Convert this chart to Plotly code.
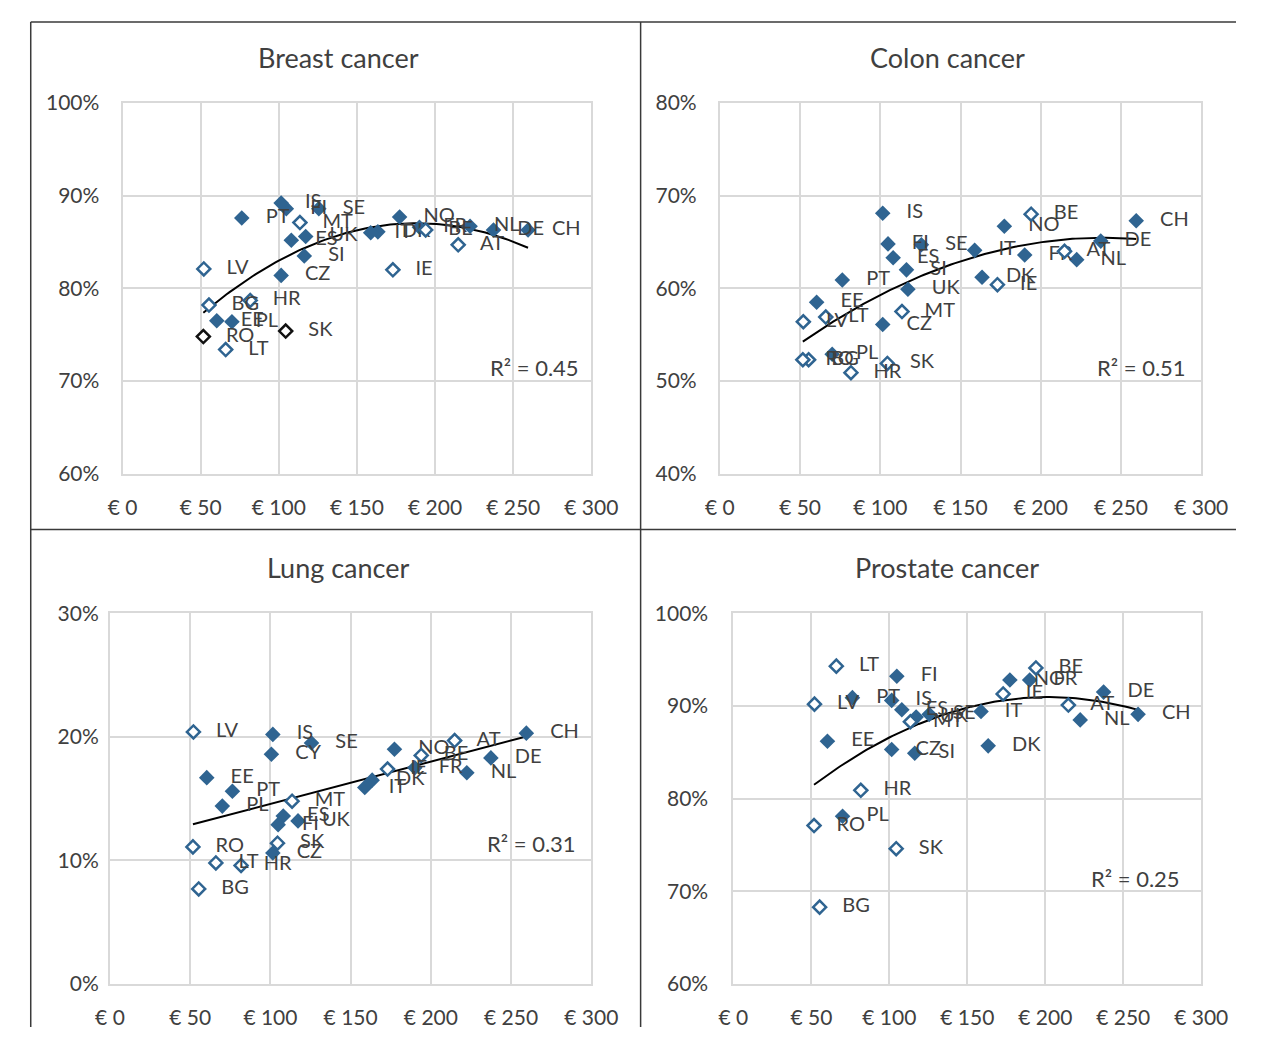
import numpy as np
import plotly.graph_objects as go

# ---------------- data ----------------
countries = ["AT", "BE", "BG", "CH", "CY", "CZ", "DE", "DK", "EE", "ES", "FI", "FR", "HR", "IE",
             "IS", "IT", "LT", "LV", "MT", "NL", "NO", "PL", "PT", "RO", "SE", "SI", "SK", "UK"]
spend = [214.8, 194.0, 55.3, 259.5, 100.6, 101.5, 237.4, 163.4, 60.3, 108.0, 104.8, 190.0, 81.7, 173.0,
         101.5, 158.8, 66.0, 52.0, 113.5, 222.4, 177.3, 70.0, 76.3, 51.7, 125.6, 116.3, 104.4, 117.2]
breast = [84.7, 86.3, 78.2, 86.3, None, 81.4, 86.3, 86.1, 76.5, 85.2, 88.6, 86.6, 78.7, 82.0,
          89.2, 86.0, 73.4, 82.1, 87.1, 86.7, 87.7, 76.4, 87.6, 74.8, 88.6, 83.5, 75.4, 85.6]
colon = [64.0, 68.0, 52.3, 67.3, None, 56.1, 65.1, 61.2, 58.5, 63.3, 64.8, 63.6, 50.9, 60.4,
         68.1, 64.1, 56.9, 56.4, 57.5, 63.1, 66.7, 52.9, 60.9, 52.3, 64.7, 62.0, 51.9, 59.9]
lung = [19.7, 18.5, 7.7, 20.3, 18.6, 10.6, 18.3, 16.5, 16.7, 13.6, 12.9, 17.5, 9.6, 17.4,
        20.2, 15.9, 9.8, 20.4, 14.8, 17.1, 19.0, 14.4, 15.6, 11.1, 19.5, None, 11.4, 13.2]
prostate = [90.1, 94.1, 68.3, 89.1, None, 85.3, 91.5, 85.7, 86.2, 89.6, 93.2, 92.8, 80.9, 91.3,
            90.6, 89.4, 94.3, 90.2, 88.3, 88.5, 92.8, 78.1, 90.9, 77.1, 89.1, 84.9, 74.6, 88.8]
open_group = ["LV", "LT", "RO", "BG", "HR", "SK", "MT", "IE", "BE", "AT"]
breast_black = ["RO", "SK"]

titles = ["Breast cancer", "Colon cancer", "Lung cancer", "Prostate cancer"]
r2_labels = ["R² = 0.45", "R² = 0.51", "R² = 0.31", "R² = 0.25"]
trend_order = [2, 2, 1, 2]
y_ranges = [[60, 100], [40, 80], [0, 30], [60, 100]]
y_ticks = [[60, 70, 80, 90, 100], [40, 50, 60, 70, 80], [0, 10, 20, 30], [60, 70, 80, 90, 100]]
x_ticks = [0, 50, 100, 150, 200, 250, 300]
x_ticktext = ["€ 0", "€ 50", "€ 100", "€ 150", "€ 200", "€ 250", "€ 300"]

# ---------------- style ----------------
BODY = 8                 # default browser body margin
W, H = 1255, 1030
BLUE = "#2f6491"
TXT = "#404040"
GRID = "#d9d9d9"
FONT = "Lato"
PAD = "\u00a0\u00a0\u00a0"


def fx(px):
    return (px - BODY) / W


def fy(py):
    return 1 - (py - BODY) / H


# plot areas in page pixels: (left, right, top, bottom)
areas = [(111, 596, 91, 471), (729, 1227, 91, 471), (98, 596, 614, 994), (743, 1227, 614, 994)]
ystandoff = [17, 17, 5, 19]
r2_pos = [(0.977, 0.287), (0.972, 0.287), (0.972, 0.379), (0.959, 0.284)]
title_pos = [(334, 44), (964, 44), (334, 567), (964, 567)]

fig = go.Figure()
series = [breast, colon, lung, prostate]
layout_axes = {}
annotations = []

for i, vals in enumerate(series):
    n = "" if i == 0 else str(i + 1)
    xa, ya = "x" + n, "y" + n
    l, r, t, b = areas[i]
    xs_f, ys_f, tx_f = [], [], []
    xs_o, ys_o, tx_o, lc_o = [], [], [], []
    for c, xv, yv in zip(countries, spend, vals):
        if yv is None:
            continue
        if c in open_group:
            xs_o.append(xv); ys_o.append(yv); tx_o.append(PAD + c)
            lc_o.append("#111111" if (i == 0 and c in breast_black) else BLUE)
        else:
            xs_f.append(xv); ys_f.append(yv); tx_f.append(PAD + c)
    xx = np.array([x for x, y in zip(spend, vals) if y is not None])
    yy = np.array([y for y in vals if y is not None])
    coef = np.polyfit(xx, yy, trend_order[i])
    xl = np.linspace(xx.min(), xx.max(), 100)
    fig.add_trace(go.Scatter(x=xl, y=np.polyval(coef, xl), mode="lines",
                             line=dict(color="black", width=2), xaxis=xa, yaxis=ya,
                             showlegend=False, hoverinfo="skip"))
    fig.add_trace(go.Scatter(x=xs_f, y=ys_f, text=tx_f, mode="markers+text",
                             textposition="middle right",
                             textfont=dict(family=FONT, size=20, color=TXT),
                             marker=dict(symbol="diamond", size=12, color=BLUE, line=dict(width=0)),
                             xaxis=xa, yaxis=ya, showlegend=False))
    fig.add_trace(go.Scatter(x=xs_o, y=ys_o, text=tx_o, mode="markers+text",
                             textposition="middle right",
                             textfont=dict(family=FONT, size=20, color=TXT),
                             marker=dict(symbol="diamond", size=10, color="white",
                                         line=dict(width=2.5, color=lc_o)),
                             xaxis=xa, yaxis=ya, showlegend=False))
    layout_axes["xaxis" + n] = dict(
        domain=[fx(l), fx(r)], anchor=ya, range=[0, 300], tickvals=x_ticks, ticktext=x_ticktext,
        showgrid=True, gridcolor=GRID, gridwidth=2, zeroline=False,
        showline=True, mirror=True, linecolor=GRID, linewidth=2, ticks="",
        ticklabelstandoff=14, tickfont=dict(family=FONT, size=21, color=TXT), fixedrange=True)
    layout_axes["yaxis" + n] = dict(
        domain=[fy(b), fy(t)], anchor=xa, range=y_ranges[i], tickvals=y_ticks[i],
        ticktext=[f"{v}%" for v in y_ticks[i]],
        showgrid=True, gridcolor=GRID, gridwidth=2, zeroline=False,
        showline=True, mirror=True, linecolor=GRID, linewidth=2, ticks="",
        ticklabelstandoff=ystandoff[i], tickfont=dict(family=FONT, size=21, color=TXT), fixedrange=True)
    annotations.append(dict(text=r2_labels[i], x=r2_pos[i][0], y=r2_pos[i][1],
                            xref=xa + " domain", yref=ya + " domain", xanchor="right", yanchor="middle",
                            showarrow=False, font=dict(family=FONT, size=22, color=TXT)))
    annotations.append(dict(text=titles[i], x=fx(title_pos[i][0]), y=fy(title_pos[i][1]),
                            xref="paper", yref="paper", xanchor="center", yanchor="middle",
                            showarrow=False, font=dict(family=FONT, size=27, color=TXT)))

LINE = dict(color="#3a3a3a", width=1.5)
shapes = [
    dict(type="line", xref="paper", yref="paper", x0=fx(16), x1=fx(16), y0=0, y1=1, line=LINE),
    dict(type="line", xref="paper", yref="paper", x0=fx(16), x1=1, y0=1, y1=1, line=LINE),
    dict(type="line", xref="paper", yref="paper", x0=fx(647), x1=fx(647), y0=0, y1=1, line=LINE),
    dict(type="line", xref="paper", yref="paper", x0=fx(16), x1=1, y0=fy(528), y1=fy(528), line=LINE),
]

fig.update_layout(width=W, height=H, margin=dict(l=0, r=0, t=0, b=0),
                  paper_bgcolor="white", plot_bgcolor="white", showlegend=False,
                  annotations=annotations, shapes=shapes, **layout_axes)

fig.write_html("out.html", config={"displayModeBar": False})
